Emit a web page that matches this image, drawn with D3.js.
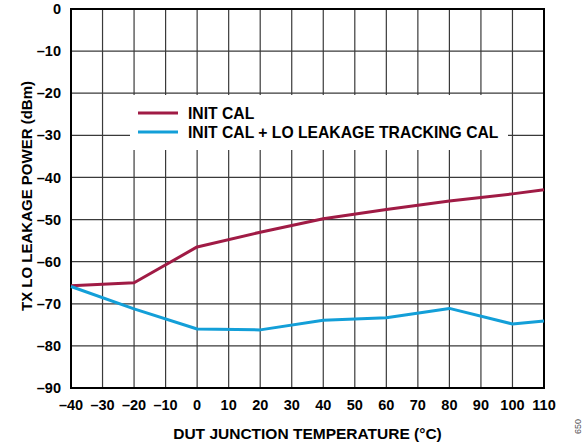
<!DOCTYPE html>
<html>
<head>
<meta charset="utf-8">
<script src="https://cdn.jsdelivr.net/npm/d3@7"></script>
<style>
  body { margin: 0; background: #fff; }
  text { font-family: "Liberation Sans", Arial, sans-serif; font-weight: bold; fill: #000; }
</style>
</head>
<body>
<div id="chart"></div>
<script>
// temperatures (°C) and leakage power (dBm)
var temps = [-40, -20, 0, 20, 40, 60, 80, 100, 110]
var initCal = [-65.7, -65.0, -56.5, -53.0, -49.8, -47.6, -45.6, -43.9, -42.9]
var trackCal = [-65.9, -71.2, -76.0, -76.2, -73.9, -73.3, -71.1, -74.8, -74.1]

var xTicks = d3.range(-40, 111, 10)
var yTicks = d3.range(-90, 1, 10)

var seriesNames = ["INIT CAL", "INIT CAL + LO LEAKAGE TRACKING CAL"]
var seriesColors = ["#a01b45", "#139fd8"]

var margin = {top: 9, right: 41, bottom: 58, left: 71},
    width = 585 - margin.left - margin.right,
    height = 446 - margin.top - margin.bottom;

var svg = d3.select("#chart")
  .append("svg")
    .attr("width", 585)
    .attr("height", 446)

var g = svg.append("g")
    .attr("transform", "translate(" + margin.left + "," + margin.top + ")")

var x = d3.scaleLinear().domain([-40, 110]).range([0, width])
var y = d3.scaleLinear().domain([-90, 0]).range([height, 0])

// grid
g.selectAll(".vgrid").data(xTicks).enter()
  .append("line")
    .attr("x1", function(d){ return x(d) }).attr("x2", function(d){ return x(d) })
    .attr("y1", 0).attr("y2", height)
    .attr("stroke", "#3a3a3a").attr("stroke-width", 1.2)

g.selectAll(".hgrid").data(yTicks).enter()
  .append("line")
    .attr("x1", 0).attr("x2", width)
    .attr("y1", function(d){ return y(d) }).attr("y2", function(d){ return y(d) })
    .attr("stroke", "#3a3a3a").attr("stroke-width", 1.2)

// frame
g.append("rect")
  .attr("width", width).attr("height", height)
  .attr("fill", "none").attr("stroke", "#000").attr("stroke-width", 2)

// tick labels
g.selectAll(".xlab").data(xTicks).enter()
  .append("text")
    .attr("x", function(d){ return x(d) })
    .attr("y", height + 22)
    .attr("text-anchor", "middle")
    .attr("font-size", "14.5px")
    .text(function(d){ return d < 0 ? "\u2013" + Math.abs(d) : d })

g.selectAll(".ylab").data(yTicks).enter()
  .append("text")
    .attr("x", -10)
    .attr("y", function(d){ return y(d) })
    .attr("dy", "0.35em")
    .attr("text-anchor", "end")
    .attr("font-size", "14.5px")
    .text(function(d){ return d < 0 ? "\u2013" + Math.abs(d) : d })

// legend box covers the grid
g.append("rect")
  .attr("x", 59).attr("y", 86)
  .attr("width", 378).attr("height", 55)
  .attr("fill", "#fff")

var line = d3.line()
  .x(function(d){ return x(d[0]) })
  .y(function(d){ return y(d[1]) })

var series = [initCal, trackCal]
series.forEach(function(s, i){
  g.append("path")
    .datum(temps.map(function(t, j){ return [t, s[j]] }))
    .attr("d", line)
    .attr("fill", "none")
    .attr("stroke", seriesColors[i])
    .attr("stroke-width", 3)
    .attr("stroke-linejoin", "round")
})

var legend = g.selectAll(".legend").data(seriesNames).enter()
  .append("g")
    .attr("transform", function(d, i){ return "translate(67," + (104 + i * 19) + ")" })

legend.append("line")
  .attr("x1", 0).attr("x2", 40)
  .attr("stroke", function(d, i){ return seriesColors[i] })
  .attr("stroke-width", 3)

legend.append("text")
  .attr("x", 50).attr("dy", "0.36em")
  .attr("font-size", "15.7px")
  .text(function(d){ return d })

// axis titles
svg.append("text")
  .attr("x", margin.left + width / 2)
  .attr("y", 439)
  .attr("text-anchor", "middle")
  .attr("font-size", "15.5px")
  .text("DUT JUNCTION TEMPERATURE (\u00b0C)")

svg.append("text")
  .attr("transform", "translate(32," + 196 + ") rotate(-90)")
  .attr("text-anchor", "middle")
  .attr("font-size", "15px")
  .text("TX LO LEAKAGE POWER (dBm)")

svg.append("text")
  .attr("transform", "translate(581,434) rotate(-90)")
  .attr("font-size", "9px")
  .style("font-weight", "normal")
  .style("fill", "#555")
  .text("650")
</script>
</body>
</html>
